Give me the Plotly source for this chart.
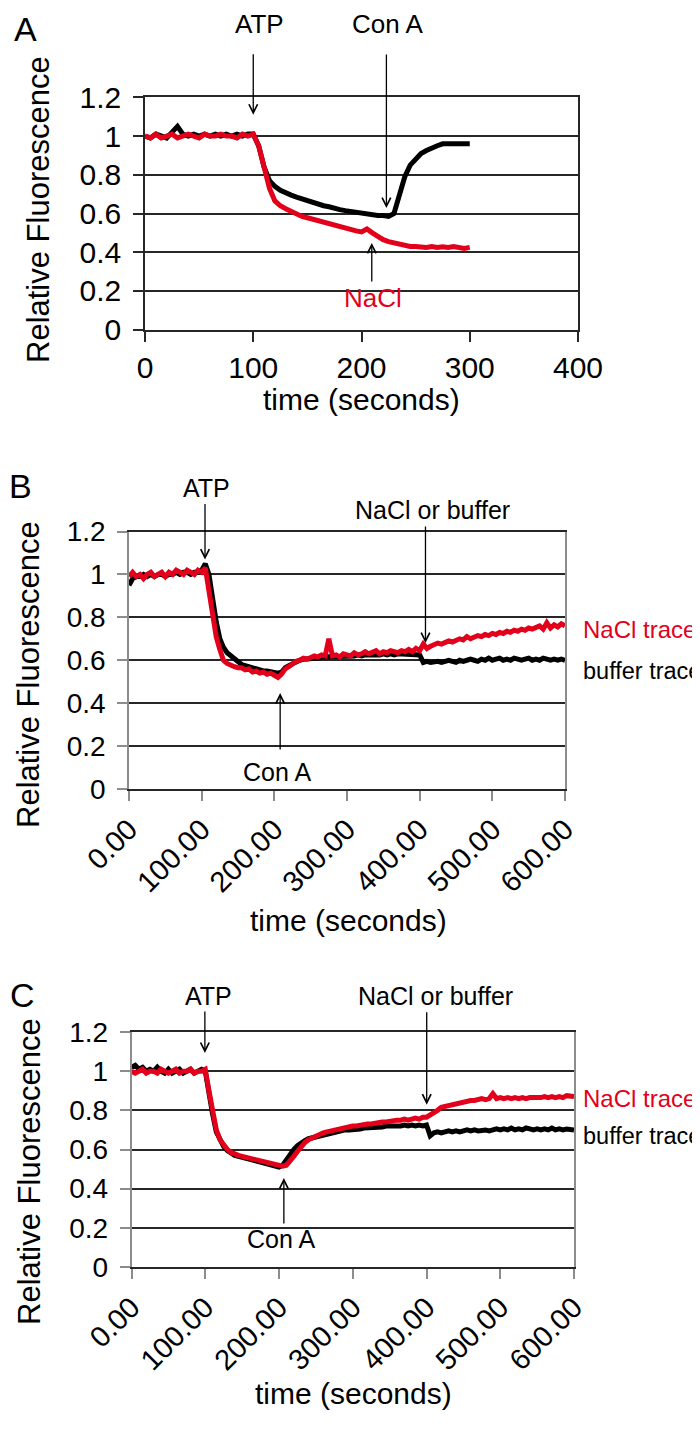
import plotly.graph_objects as go

W, H = 700, 1431
FONT = "Liberation Sans, Arial, Helvetica, sans-serif"
RED = "#e2001a"

# ---------------- Panel A data ----------------
a_time = list(range(0, 301, 5))
a_black = [1.00, 0.99, 1.01, 1.00, 0.99, 1.02, 1.05, 1.01, 1.00, 1.01,
           1.00, 1.01, 1.00, 1.01, 1.00, 1.01, 1.00, 1.01, 1.00, 1.01,
           1.01, 0.95, 0.84, 0.77, 0.74, 0.72, 0.705, 0.695, 0.685, 0.675,
           0.665, 0.66, 0.65, 0.64, 0.635, 0.625, 0.62, 0.615, 0.61, 0.605,
           0.60, 0.60, 0.595, 0.59, 0.59, 0.585, 0.60, 0.69, 0.79, 0.85,
           0.885, 0.91, 0.925, 0.94, 0.95, 0.96, 0.96, 0.955, 0.96, 0.955,
           0.96]
a_red = [1.00, 0.99, 1.01, 0.99, 1.00, 1.01, 0.99, 1.00, 1.01, 1.00,
         0.99, 1.01, 1.00, 1.00, 1.01, 1.00, 1.00, 0.99, 1.01, 1.00,
         1.01, 0.95, 0.84, 0.73, 0.665, 0.64, 0.625, 0.61, 0.595, 0.585,
         0.578, 0.57, 0.565, 0.555, 0.55, 0.54, 0.53, 0.525, 0.52, 0.51,
         0.505, 0.52, 0.50, 0.48, 0.465, 0.455, 0.448, 0.44, 0.435, 0.43,
         0.43, 0.428, 0.425, 0.43, 0.425, 0.428, 0.425, 0.43, 0.425, 0.42,
         0.425]
a_xticks = [0, 100, 200, 300, 400]
a_arrow_x = [100, 223, 209.5]          # ATP, Con A, NaCl
a_arrow_y = [1.11, 0.628, 0.448]

# ---------------- Panel B data ----------------
b_time = list(range(0, 601, 5))
b_red = [0.99, 1.01, 0.99, 1.00, 0.98, 1.00, 1.01, 0.99, 1.00, 1.01,
         0.99, 1.01, 1.00, 1.02, 1.01, 1.00, 1.02, 1.01, 1.00, 1.02,
         1.01, 1.03, 0.93, 0.82, 0.71, 0.65, 0.60, 0.585, 0.575, 0.57,
         0.565, 0.565, 0.555, 0.56, 0.545, 0.55, 0.54, 0.545, 0.535, 0.54,
         0.53, 0.52, 0.535, 0.56, 0.57, 0.585, 0.595, 0.60, 0.61, 0.605,
         0.615, 0.62, 0.615, 0.625, 0.62, 0.70, 0.62, 0.625, 0.615, 0.63,
         0.625, 0.62, 0.635, 0.625, 0.63, 0.64, 0.63, 0.635, 0.645, 0.63,
         0.64, 0.635, 0.645, 0.64, 0.635, 0.645, 0.64, 0.65, 0.64, 0.655,
         0.645, 0.675, 0.655, 0.665, 0.67, 0.68, 0.675, 0.685, 0.69, 0.685,
         0.695, 0.70, 0.695, 0.71, 0.70, 0.705, 0.715, 0.71, 0.72, 0.715,
         0.725, 0.72, 0.73, 0.725, 0.735, 0.73, 0.74, 0.735, 0.745, 0.74,
         0.75, 0.745, 0.755, 0.76, 0.745, 0.775, 0.75, 0.765, 0.755, 0.77,
         0.76]
b_black = [0.95, 0.98, 0.99, 0.99, 1.00, 0.99, 1.00, 0.99, 1.00, 1.00,
           0.99, 1.00, 1.00, 1.01, 1.00, 1.01, 1.01, 1.00, 1.01, 1.01,
           1.02, 1.05, 1.00, 0.88, 0.78, 0.70, 0.66, 0.635, 0.62, 0.605,
           0.595, 0.58, 0.575, 0.57, 0.56, 0.56, 0.555, 0.55, 0.55, 0.545,
           0.545, 0.54, 0.545, 0.565, 0.575, 0.585, 0.595, 0.60, 0.605, 0.605,
           0.61, 0.61, 0.61, 0.615, 0.615, 0.615, 0.615, 0.62, 0.615, 0.62,
           0.62, 0.62, 0.62, 0.625, 0.62, 0.625, 0.625, 0.62, 0.625, 0.625,
           0.63, 0.625, 0.63, 0.625, 0.63, 0.63, 0.625, 0.63, 0.63, 0.63,
           0.625, 0.59, 0.595, 0.59, 0.595, 0.595, 0.59, 0.595, 0.60, 0.595,
           0.59, 0.60, 0.595, 0.60, 0.605, 0.60, 0.595, 0.605, 0.60, 0.61,
           0.60, 0.605, 0.61, 0.60, 0.605, 0.60, 0.61, 0.605, 0.60, 0.605,
           0.61, 0.60, 0.605, 0.60, 0.61, 0.605, 0.60, 0.605, 0.60, 0.605,
           0.60]
bc_xticks = [0, 100, 200, 300, 400, 500, 600]
b_arrow_x = [104.6, 408, 208]           # ATP, NaCl or buffer, Con A
b_arrow_y = [1.069, 0.68, 0.447]

# ---------------- Panel C data ----------------
c_time = list(range(0, 601, 5))
c_red = [1.00, 0.99, 1.00, 1.01, 0.99, 1.00, 1.00, 0.99, 1.01, 1.00,
         0.99, 1.00, 1.01, 0.99, 1.00, 1.00, 1.01, 0.99, 1.00, 1.00,
         1.01, 0.90, 0.80, 0.70, 0.65, 0.62, 0.60, 0.585, 0.575, 0.57,
         0.565, 0.56, 0.555, 0.55, 0.545, 0.54, 0.535, 0.53, 0.525, 0.52,
         0.52, 0.515, 0.52, 0.54, 0.565, 0.59, 0.615, 0.635, 0.65, 0.66,
         0.67, 0.68, 0.685, 0.69, 0.695, 0.70, 0.705, 0.71, 0.71, 0.715,
         0.72, 0.72, 0.725, 0.725, 0.73, 0.73, 0.735, 0.735, 0.74, 0.74,
         0.745, 0.745, 0.75, 0.75, 0.755, 0.75, 0.755, 0.76, 0.755, 0.765,
         0.765, 0.775, 0.79, 0.80, 0.815, 0.82, 0.825, 0.83, 0.835, 0.835,
         0.84, 0.845, 0.85, 0.85, 0.855, 0.86, 0.855, 0.86, 0.885, 0.86,
         0.865, 0.86, 0.865, 0.86, 0.865, 0.86, 0.865, 0.86, 0.865, 0.865,
         0.86, 0.865, 0.87, 0.865, 0.87, 0.865, 0.87, 0.865, 0.875, 0.87,
         0.87]
c_black = [1.02, 1.03, 1.01, 1.02, 1.00, 1.01, 1.00, 1.02, 1.00, 0.99,
           1.01, 0.99, 1.00, 1.01, 0.99, 1.00, 1.01, 0.99, 1.00, 1.01,
           1.00, 0.88, 0.78, 0.69, 0.645, 0.615, 0.595, 0.58, 0.57, 0.565,
           0.56, 0.555, 0.55, 0.545, 0.54, 0.535, 0.53, 0.525, 0.52, 0.515,
           0.51, 0.52, 0.55, 0.575, 0.60, 0.62, 0.635, 0.645, 0.655, 0.66,
           0.665, 0.67, 0.675, 0.68, 0.685, 0.685, 0.69, 0.695, 0.70, 0.70,
           0.70, 0.705, 0.705, 0.71, 0.71, 0.71, 0.715, 0.71, 0.715, 0.72,
           0.72, 0.715, 0.72, 0.72, 0.725, 0.72, 0.725, 0.72, 0.725, 0.72,
           0.725, 0.67, 0.685, 0.69, 0.685, 0.69, 0.695, 0.69, 0.695, 0.69,
           0.695, 0.70, 0.695, 0.70, 0.695, 0.70, 0.70, 0.695, 0.70, 0.705,
           0.70, 0.705, 0.70, 0.71, 0.70, 0.705, 0.70, 0.71, 0.705, 0.70,
           0.705, 0.70, 0.705, 0.70, 0.71, 0.70, 0.705, 0.70, 0.705, 0.70,
           0.70]
c_arrow_x = [99.5, 400.3, 206.6]        # ATP, NaCl or buffer, Con A
c_arrow_y = [1.093, 0.829, 0.454]

y_range = [0, 1.2]


def P(px, py):
    return px / W, 1 - py / H


fig = go.Figure()
LW = 5
fig.add_trace(go.Scatter(x=a_time, y=a_black, mode="lines", line=dict(color="black", width=LW), xaxis="x", yaxis="y"))
fig.add_trace(go.Scatter(x=a_time, y=a_red, mode="lines", line=dict(color=RED, width=LW), xaxis="x", yaxis="y"))
fig.add_trace(go.Scatter(x=b_time, y=b_black, mode="lines", line=dict(color="black", width=LW), xaxis="x2", yaxis="y2"))
fig.add_trace(go.Scatter(x=b_time, y=b_red, mode="lines", line=dict(color=RED, width=LW), xaxis="x2", yaxis="y2"))
fig.add_trace(go.Scatter(x=c_time, y=c_black, mode="lines", line=dict(color="black", width=LW), xaxis="x3", yaxis="y3"))
fig.add_trace(go.Scatter(x=c_time, y=c_red, mode="lines", line=dict(color=RED, width=LW), xaxis="x3", yaxis="y3"))

DARK = "#262626"
GREY = "#8c8c8c"


def xax(dom, rng, tickvals, anchor, fsize, fmt=None, angle=0, tickcol=DARK):
    d = dict(domain=dom, range=rng, tickvals=tickvals, anchor=anchor,
             ticks="outside", ticklen=10, tickwidth=1.5, tickcolor=tickcol,
             showline=True, linecolor=DARK, linewidth=1.6, mirror=True,
             showgrid=False, zeroline=False, fixedrange=True, automargin=False,
             tickfont=dict(family=FONT, size=fsize, color="black"),
             tickangle=angle)
    if fmt:
        d["tickformat"] = fmt
    return d


def yax(dom, anchor, fsize, linecol=DARK, tickcol=DARK):
    return dict(domain=dom, range=y_range, tick0=0, dtick=0.2, anchor=anchor,
                ticks="outside", ticklen=10, tickwidth=1.5, tickcolor=tickcol,
                showline=True, linecolor=linecol, linewidth=1.6, mirror=True,
                showgrid=True, gridcolor=DARK, gridwidth=1.6, zeroline=False,
                fixedrange=True, ticklabelstandoff=6, automargin=False,
                tickfont=dict(family=FONT, size=fsize, color="black"))


ann = []


def txt(s, px, py, size, color="black", xanchor="center", angle=0):
    x, y = P(px, py)
    ann.append(dict(text=s, x=x, y=y, xref="paper", yref="paper", showarrow=False,
                    xanchor=xanchor, yanchor="middle", textangle=angle,
                    borderpad=0, borderwidth=0,
                    font=dict(family=FONT, size=size, color=color)))


def arrow(xr, yr, x, y, ay):
    ann.append(dict(text="", x=x, y=y, xref=xr, yref=yr, ax=0, ay=ay,
                    showarrow=True, arrowhead=5, arrowsize=1.3, arrowwidth=1.3,
                    arrowcolor="black", standoff=0))


# Panel A
txt("A", 17, 21, 34)
txt("ATP", 251.5, 16, 26)
txt("Con A", 380, 16, 26)
txt("NaCl", 365, 290, 26, RED)
txt("Relative Fluorescence", 31, 202, 31, angle=-90)
txt("time (seconds)", 353.5, 392, 30)
arrow("x", "y", a_arrow_x[0], a_arrow_y[0], -62)
arrow("x", "y", a_arrow_x[1], a_arrow_y[1], -155)
arrow("x", "y", a_arrow_x[2], a_arrow_y[2], 40)

# Panel B
txt("B", 12, 478, 34)
txt("ATP", 198.6, 480, 25)
txt("NaCl or buffer", 425, 502, 25)
txt("Con A", 269, 764, 25)
txt("NaCl trace", 575, 621, 24, RED, xanchor="left")
txt("buffer trace", 575, 662.5, 23.5, xanchor="left")
txt("Relative Fluorescence", 21, 667, 31, angle=-90)
txt("time (seconds)", 340, 912, 30)
arrow("x2", "y2", b_arrow_x[0], b_arrow_y[0], -57)
arrow("x2", "y2", b_arrow_x[1], b_arrow_y[1], -118)
arrow("x2", "y2", b_arrow_x[2], b_arrow_y[2], 58)

# Panel C
txt("C", 14, 987, 34)
txt("ATP", 200, 988, 25)
txt("NaCl or buffer", 427, 988, 25)
txt("Con A", 273.4, 1231, 25)
txt("NaCl trace", 575, 1090, 24, RED, xanchor="left")
txt("buffer trace", 575, 1128, 23.5, xanchor="left")
txt("Relative Fluorescence", 21, 1164, 31, angle=-90)
txt("time (seconds)", 345, 1385, 30)
arrow("x3", "y3", c_arrow_x[0], c_arrow_y[0], -43)
arrow("x3", "y3", c_arrow_x[1], c_arrow_y[1], -94)
arrow("x3", "y3", c_arrow_x[2], c_arrow_y[2], 47)

fig.update_layout(
    template="none",
    width=W, height=H, autosize=False,
    margin=dict(l=0, r=0, t=0, b=0, pad=0, autoexpand=False),
    paper_bgcolor="white", plot_bgcolor="white",
    showlegend=False,
    font=dict(family=FONT, color="black"),
    xaxis=xax([137 / W, 570 / W], [0, 400], a_xticks, "y", 30),
    yaxis=yax([1 - 321.7 / H, 1 - 89.3 / H], "x", 30),
    xaxis2=xax([121 / W, 557 / W], [0, 600], bc_xticks, "y2", 29, ".2f", -45, GREY),
    yaxis2=yax([1 - 781 / H, 1 - 523.5 / H], "x2", 28, GREY, GREY),
    xaxis3=xax([123.5 / W, 566 / W], [0, 600], bc_xticks, "y3", 29, ".2f", -45, GREY),
    yaxis3=yax([1 - 1259 / H, 1 - 1024 / H], "x3", 28, GREY, GREY),
    annotations=ann,
)

fig.write_html("out.html")
